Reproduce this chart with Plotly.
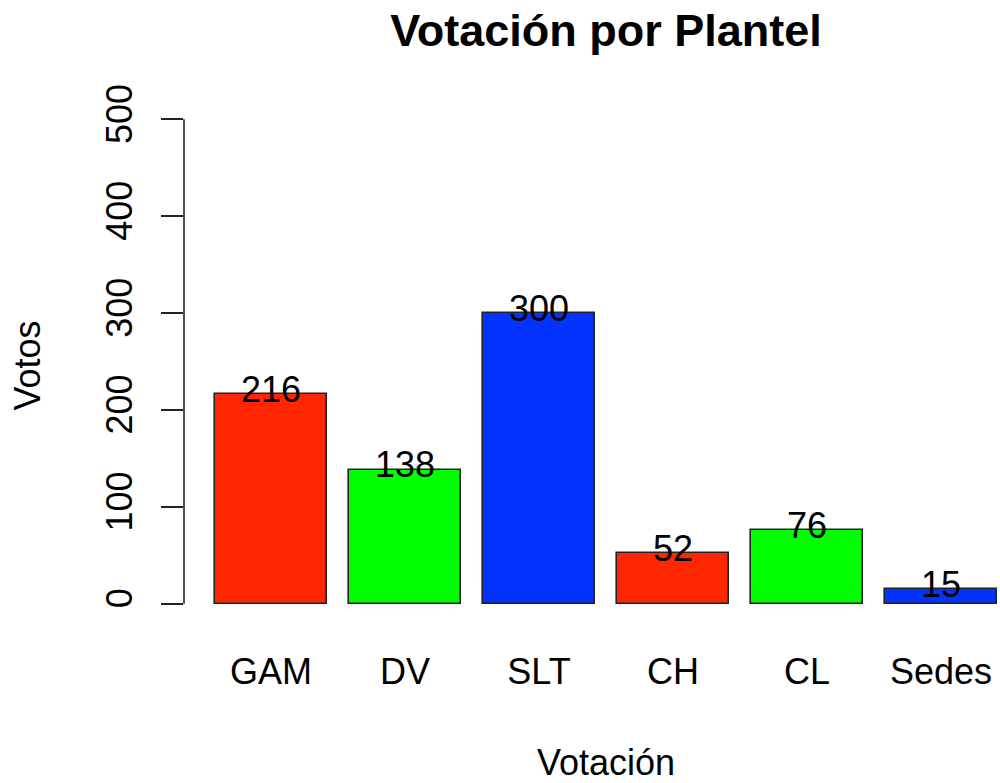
import plotly.graph_objects as go

categories = ["GAM", "DV", "SLT", "CH", "CL", "Sedes"]
votes = [216, 138, 300, 52, 76, 15]
colors = ["#FF2600", "#00FF00", "#0433FF", "#FF2600", "#00FF00", "#0433FF"]
yticks = [0, 100, 200, 300, 400, 500]

FONT = "Liberation Sans, Arial, Helvetica, sans-serif"
FS = 36

# R barplot positions: width 1, space 0.2
xpos = [0.7 + 1.2 * i for i in range(len(categories))]

fig = go.Figure()
fig.add_trace(go.Bar(
    x=xpos, y=votes, width=1.0,
    marker=dict(color=colors, line=dict(color="#222222", width=1.6)),
    hoverinfo="skip", showlegend=False,
))

for xv, v in zip(xpos, votes):
    fig.add_annotation(x=xv, y=v, text=str(v), showarrow=False,
                       xref="x", yref="y", xanchor="center", yanchor="middle",
                       yshift=5, font=dict(family=FONT, size=FS, color="black"))

# y axis line from 0 to 500 (R style)
fig.add_shape(type="line", xref="paper", yref="y", x0=0, x1=0,
              y0=yticks[0], y1=yticks[-1], line=dict(color="#222222", width=1.6))

fig.add_annotation(text="Votos", xref="paper", yref="paper", x=0, xshift=-157,
                   y=0.5, yshift=-4, showarrow=False, textangle=-90,
                   xanchor="center", yanchor="middle",
                   font=dict(family=FONT, size=FS, color="black"))
fig.add_annotation(text="Votación", xref="paper", yref="paper", x=0.517, y=0,
                   yshift=-139, showarrow=False, xanchor="center", yanchor="middle",
                   font=dict(family=FONT, size=FS, color="black"))

fig.update_layout(
    width=1000, height=783,
    margin=dict(l=184, r=0, t=100, b=160),
    paper_bgcolor="white", plot_bgcolor="white",
    bargap=0,
    title=dict(text="<b>Votación por Plantel</b>", x=0.606, xanchor="center",
               xref="container", yref="container", y=1 - 30 / 783, yanchor="middle",
               font=dict(family=FONT, size=45, color="black")),
    xaxis=dict(range=[-0.08, 7.229], tickvals=xpos, ticktext=categories,
               showgrid=False, zeroline=False, showline=False, ticks="",
               ticklabelstandoff=24,
               tickfont=dict(family=FONT, size=FS, color="black")),
    yaxis=dict(range=[-20, 520], tickvals=yticks, ticks="outside", ticklen=22,
               tickwidth=1.6, tickcolor="#222222", tickangle=-90,
               showgrid=False, zeroline=False, showline=False,
               ticklabelstandoff=15,
               tickfont=dict(family=FONT, size=FS, color="black")),
)

fig.write_html("out.html",
               config={"displayModeBar": False},
               post_script="document.body.style.margin='0';document.body.style.overflow='hidden';")
